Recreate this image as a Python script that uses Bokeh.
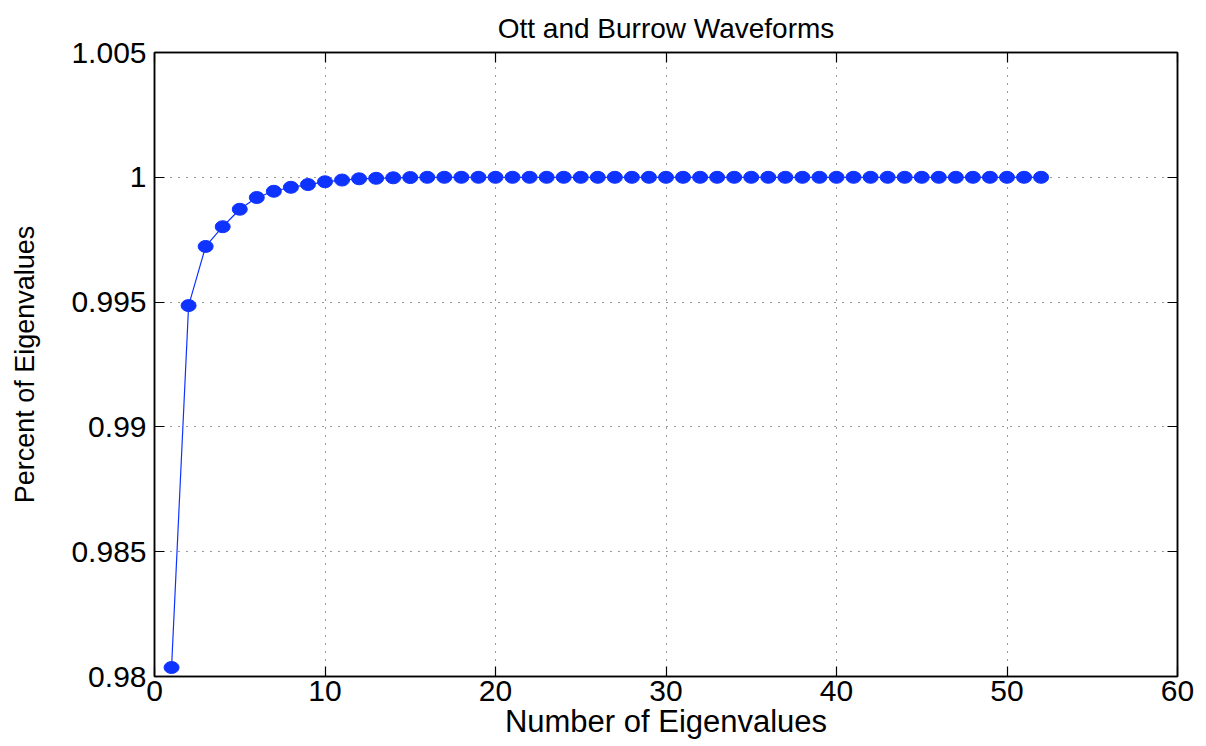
from bokeh.plotting import figure
from bokeh.models import LinearAxis, FixedTicker, Range1d
from bokeh.embed import file_html
from bokeh.resources import INLINE

n_eig = list(range(1, 53))
head = [0.98036, 0.99486, 0.99723, 0.99802, 0.99872, 0.99919, 0.99944,
        0.99960, 0.99971, 0.99982, 0.99989, 0.99994, 0.99996, 0.99998,
        0.99999]
pct = head + [1.0] * (52 - len(head))

x_ticks = [0, 10, 20, 30, 40, 50, 60]
y_ticks = [0.98, 0.985, 0.99, 0.995, 1.0, 1.005]
y_tick_labels = ["0.98", "0.985", "0.99", "0.995", "1", "1.005"]
title_text = "Ott and Burrow Waveforms"

FONT = "Liberation Sans"
BLUE = "#0f33ff"

p = figure(width=1206, height=746, output_backend="svg", toolbar_location=None,
           x_range=Range1d(0, 60), y_range=Range1d(0.98, 1.005),
           min_border_left=154, min_border_right=29, min_border_top=52,
           min_border_bottom=70, x_axis_location=None, y_axis_location=None)
p.background_fill_color = "white"
p.border_fill_color = "white"
p.outline_line_color = "black"
p.outline_line_width = 1.5

p.title.text = title_text
p.title.text_font = FONT
p.title.text_font_size = "28px"
p.title.text_font_style = "normal"
p.title.text_color = "black"
p.title.align = "center"
p.title.vertical_align = "top"
p.title.offset = 0
p.title.standoff = 14

def style_axis(ax, ticks, show_labels):
    ax.ticker = FixedTicker(ticks=ticks)
    ax.major_tick_in = 10
    ax.major_tick_out = 0
    ax.minor_tick_in = 0
    ax.minor_tick_out = 0
    ax.axis_line_color = "black"
    ax.axis_line_width = 1.5
    ax.major_tick_line_color = "black"
    ax.major_tick_line_width = 1.2
    ax.major_label_text_font = FONT
    ax.major_label_text_font_size = "30px"
    ax.major_label_text_color = "black"
    ax.axis_label_text_font = FONT
    ax.axis_label_text_font_style = "normal"
    ax.axis_label_text_color = "black"
    ax.axis_label_text_font_size = "31px"
    if not show_labels:
        ax.major_label_text_font_size = "0px"
        ax.major_label_text_alpha = 0

xb = LinearAxis(axis_label="Number of Eigenvalues")
style_axis(xb, x_ticks, True)
xb.major_label_standoff = 4
xb.axis_label_standoff = 0
p.add_layout(xb, "below")

yl = LinearAxis(axis_label="Percent of Eigenvalues")
style_axis(yl, y_ticks, True)
yl.axis_label_text_font_size = "27px"
yl.major_label_overrides = {t: s for t, s in zip(y_ticks, y_tick_labels)}
yl.major_label_standoff = 8
yl.axis_label_standoff = 28
p.add_layout(yl, "left")

xt = LinearAxis()
style_axis(xt, x_ticks, False)
p.add_layout(xt, "above")
yr = LinearAxis()
style_axis(yr, y_ticks, False)
p.add_layout(yr, "right")

p.xgrid.ticker = FixedTicker(ticks=x_ticks)
p.ygrid.ticker = FixedTicker(ticks=y_ticks)
for g in (p.xgrid, p.ygrid):
    g.grid_line_color = "black"
    g.grid_line_dash = "1 7"
    g.grid_line_width = 1
    g.grid_line_alpha = 0.8

p.line(n_eig, pct, line_color=BLUE, line_width=1.2)
p.ellipse(n_eig, pct, width=15, height=12, width_units="screen",
          height_units="screen", fill_color=BLUE, line_color=BLUE)

open("out.html", "w").write(file_html(p, INLINE))
